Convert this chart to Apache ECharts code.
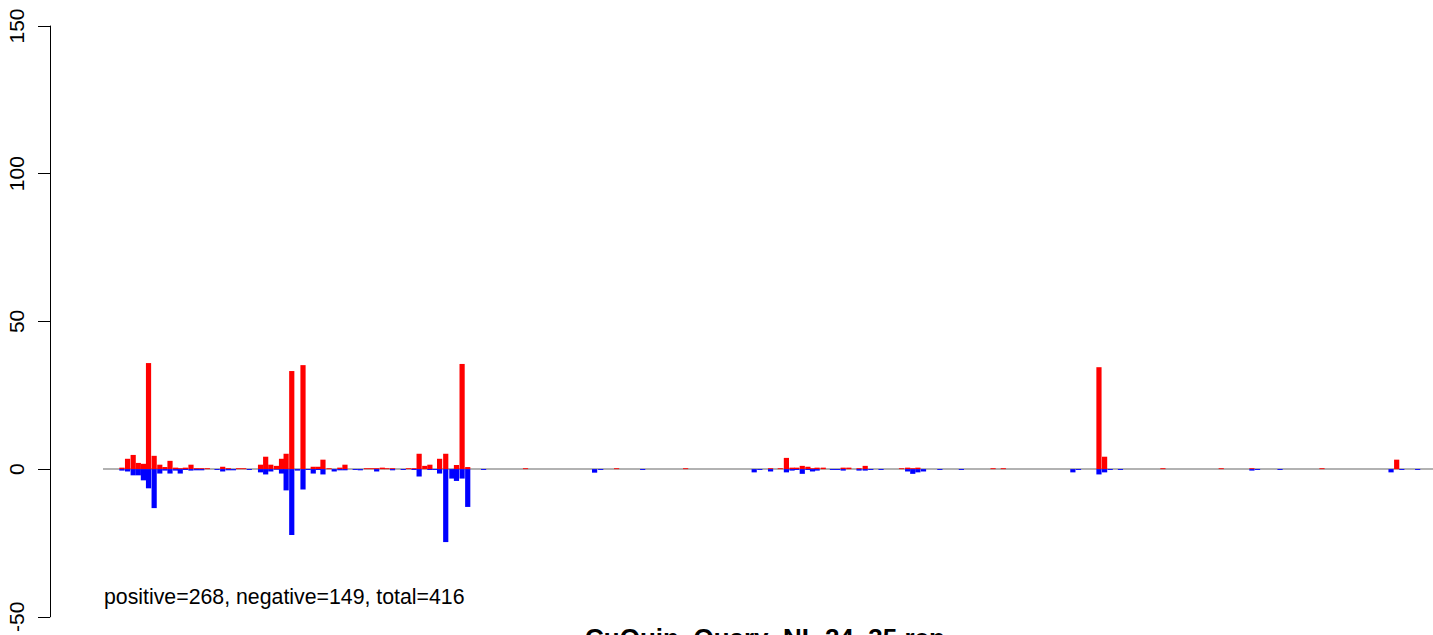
<!DOCTYPE html>
<html>
<head>
<meta charset="utf-8">
<script src="https://cdn.jsdelivr.net/npm/echarts@6/dist/echarts.min.js"></script>
<style>
html,body{margin:0;padding:0;background:#fff;}
#chart{width:1433px;height:635px;}
</style>
</head>
<body>
<div id="chart"></div>
<script>
// positions along the sequence (arbitrary position units)
const positions = [3.7,4.8,5.9,6.9,7.9,8.9,10.0,11.1,12.1,13.1,14.2,15.1,16.1,17.2,18.3,19.3,20.4,22.3,23.4,24.5,25.5,26.5,27.5,28.6,
  30.8,31.8,32.8,33.9,34.9,35.8,36.9,38.0,39.1,40.1,41.1,42.1,43.0,44.2,45.2,46.3,47.3,49.3,50.3,51.5,52.5,53.5,54.6,55.5,56.6,58.7,59.7,60.8,
  61.8,62.9,63.9,64.9,65.8,67.0,68.2,69.1,70.2,71.3,74.4,82.6,96.1,97.3,100.4,105.5,113.9,127.3,128.4,130.5,132.4,133.6,134.7,135.6,136.7,137.8,
  138.7,139.6,140.8,142.6,143.6,144.7,145.8,147.8,149.0,150.1,152.1,156.1,157.3,158.3,159.3,160.4,163.6,167.8,174.0,176.0,189.6,190.7,194.7,195.8,
  196.9,198.9,207.2,218.6,224.6,225.7,230.1,238.3,251.8,252.9,253.9,257.0];
const positiveVals = [0.5,3.5,4.8,2.1,1.8,35.9,4.5,1.5,0.7,2.8,0.5,0.3,0.5,1.5,0.3,0.3,0.3,0,0.8,0.3,0,0.3,0.3,0,
  1.5,4.2,1.5,1.1,3.5,5.2,33.2,0,35.2,0,0.8,0.8,3.2,0.3,0,0.5,1.5,0,0,0.3,0.3,0.3,0.5,0.3,0.3,0,0.3,0.3,
  5.2,1.1,1.5,0,3.5,5.2,0,1.4,35.6,0.7,0,0.3,0,0,0.3,0,0.3,0,0,0.3,0.3,3.8,0.5,0.5,1.1,0.8,
  0.3,0.5,0.5,0,0,0.5,0.5,0.3,1.1,0,0,0.3,0.5,0.3,0.5,0,0,0,0.3,0.3,0,0,34.5,4.2,
  0,0,0.3,0.3,0.3,0,0,0.3,0,3.2,0,0];
const negativeVals = [-0.5,-0.8,-2.1,-2.1,-3.8,-6.5,-13.2,-1.5,-0.5,-1.5,-0.5,-1.5,-0.3,-0.5,-0.4,-0.4,0,-0.3,-0.8,-0.4,-0.4,0,0,-0.3,
  -1.1,-1.8,-0.8,-0.2,-1.5,-7.2,-22.3,-0.5,-6.9,-0.3,-1.5,-0.3,-1.8,0,-0.8,-0.4,-0.4,-0.3,-0.4,0,0,-0.8,0,0,-0.4,-0.3,0,-0.3,
  -2.5,0,-0.3,-0.3,-1.5,-24.7,-3.2,-4.0,-3.2,-12.8,-0.3,0,-1.2,-0.3,0,-0.3,0,-1.1,-0.3,-0.8,0,-1.1,-0.5,-0.3,-1.6,-0.3,
  -0.8,-0.5,0,-0.3,-0.3,-0.5,0,-0.5,-0.5,-0.3,-0.3,0,-0.8,-1.6,-1.1,-0.8,-0.3,-0.3,0,0,-1.1,-0.3,-1.8,-1.1,
  -0.3,-0.3,0,0,-0.5,-0.3,-0.3,0,-1.1,0,-0.3,-0.3];
const yTicks = [-50, 0, 50, 100, 150];
const xRange = [0, 260];
const summaryText = 'positive=268, negative=149, total=416';
const titleText = 'CuQuin_Quary_NL.24_35.rep';

const chart = echarts.init(document.getElementById('chart'), null, {renderer: 'svg'});
const font = 'Liberation Sans, Arial, sans-serif';
chart.setOption({
  animation: false,
  backgroundColor: '#ffffff',
  grid: {left: 103, right: 0, top: 26, bottom: 18, containLabel: false},
  xAxis: {
    type: 'value', min: xRange[0], max: xRange[1], show: false,
    splitLine: {show: false}
  },
  yAxis: {
    type: 'value', min: yTicks[0], max: yTicks[yTicks.length - 1], interval: 50,
    offset: 53,
    axisLine: {show: true, onZero: false, lineStyle: {color: '#000', width: 1}},
    axisTick: {show: true, length: 12, lineStyle: {color: '#000', width: 1}},
    axisLabel: {rotate: 90, fontSize: 21, color: '#000', fontFamily: font, margin: 23, showMinLabel: true, showMaxLabel: true, hideOverlap: false},
    splitLine: {show: false}
  },
  graphic: [
    {type: 'text', left: 104, top: 586, silent: true,
     style: {text: summaryText, fill: '#000', font: '21.3px ' + font}},
    {type: 'text', x: 765, y: 638, silent: true,
     style: {text: titleText, fill: '#000', font: 'bold 26px ' + font, align: 'center', verticalAlign: 'middle', textAlign: 'center', textVerticalAlign: 'middle'}}
  ],
  series: [
    {type: 'line', data: [[xRange[0], 0], [xRange[1], 0]], symbol: 'none', silent: true, z: 1,
     lineStyle: {color: '#999999', width: 1.5}},
    {type: 'bar', name: 'positive', data: positions.map((p, i) => [p, positiveVals[i]]),
     barWidth: 5.2, barGap: '-100%', z: 2, itemStyle: {color: '#ff0000'}, silent: true},
    {type: 'bar', name: 'negative', data: positions.map((p, i) => [p, negativeVals[i]]),
     barWidth: 5.2, barGap: '-100%', z: 2, itemStyle: {color: '#0000ff'}, silent: true}
  ]
});
</script>
</body>
</html>
